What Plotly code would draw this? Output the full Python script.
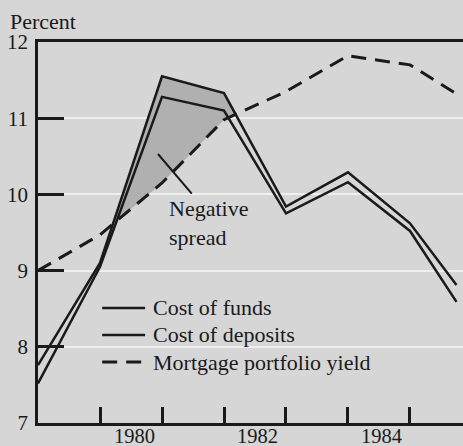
import plotly.graph_objects as go

# ---- data ----
years = [1979.0, 1980.0, 1981.0, 1982.0, 1983.0, 1984.0, 1985.0, 1985.75]
cost_of_funds = [7.76, 9.10, 11.55, 11.33, 9.84, 10.29, 9.62, 8.81]
cost_of_deposits = [7.52, 9.05, 11.28, 11.10, 9.75, 10.16, 9.52, 8.59]
mortgage_yield = [9.00, 9.47, 10.15, 10.98, 11.35, 11.82, 11.70, 11.32]

tick_years = [1980, 1981, 1982, 1983, 1984, 1985]
label_pos = [1980.5, 1982.5, 1984.5]
label_text = ["1980", "1982", "1984"]
y_ticks = [7, 8, 9, 10, 11, 12]
legend_names = ["Cost of funds", "Cost of deposits", "Mortgage portfolio yield"]

FONT = "Liberation Serif"
BG = "#d6d6d6"
INK = "#1a1a1a"
DASH = "15px,9px"

# ---- negative spread region (cost of funds above mortgage yield) ----
xs, ys_top, ys_bot = [], [], []
for i in range(len(years) - 1):
    x0, x1 = years[i], years[i + 1]
    d0 = cost_of_funds[i] - mortgage_yield[i]
    d1 = cost_of_funds[i + 1] - mortgage_yield[i + 1]
    if d0 >= 0:
        xs.append(x0); ys_top.append(cost_of_funds[i]); ys_bot.append(mortgage_yield[i])
    if d0 * d1 < 0:
        t = d0 / (d0 - d1)
        xc = x0 + t * (x1 - x0)
        yc = mortgage_yield[i] + t * (mortgage_yield[i + 1] - mortgage_yield[i])
        xs.append(xc); ys_top.append(yc); ys_bot.append(yc)
fill_x = xs + xs[::-1]
fill_y = ys_top + ys_bot[::-1]

fig = go.Figure()
fig.add_trace(go.Scatter(x=fill_x, y=fill_y, fill="toself", fillcolor="#b0b0b0",
                         line=dict(width=0), mode="lines", showlegend=False, hoverinfo="skip"))
fig.add_trace(go.Scatter(x=years, y=cost_of_funds, mode="lines", name=legend_names[0],
                         line=dict(color=INK, width=2.5), showlegend=False))
fig.add_trace(go.Scatter(x=years, y=cost_of_deposits, mode="lines", name=legend_names[1],
                         line=dict(color=INK, width=2.5), showlegend=False))
fig.add_trace(go.Scatter(x=years, y=mortgage_yield, mode="lines", name=legend_names[2],
                         line=dict(color=INK, width=3, dash=DASH), showlegend=False))

# pointer + label for negative spread
fig.add_annotation(x=1980.935, y=10.53, ax=1981.5, ay=9.99, axref="x", ayref="y",
                   xref="x", yref="y", showarrow=True, arrowhead=0, arrowwidth=2,
                   arrowcolor=INK, text="", standoff=0, startstandoff=0)
fig.add_annotation(x=1981.08, y=9.62, xref="x", yref="y", text="Negative<br>spread",
                   showarrow=False, xanchor="left", yanchor="middle", align="left",
                   font=dict(family=FONT, size=22, color=INK))
fig.add_annotation(x=0, y=1, xref="paper", yref="paper", yshift=9, xshift=-30,
                   text="Percent", showarrow=False, xanchor="left", yanchor="bottom",
                   height=20, valign="middle",
                   font=dict(family=FONT, size=22, color=INK))

# x-axis year labels, centred in each labelled year
for xp, lt in zip(label_pos, label_text):
    fig.add_annotation(x=xp, y=0, xref="x", yref="paper", text=lt, showarrow=False,
                       xanchor="center", yanchor="middle", yshift=-13, xshift=3,
                       height=16, valign="middle",
                       font=dict(family=FONT, size=20.5, color=INK))

# manual legend (sample lines + labels)
leg_y = [0.302, 0.231, 0.160]
leg_dash = ["solid", "solid", DASH]
for name, yy, dsh in zip(legend_names, leg_y, leg_dash):
    fig.add_shape(type="line", xref="paper", yref="paper", x0=0.151, x1=0.252, y0=yy, y1=yy,
                  line=dict(color=INK, width=2.5 if dsh == "solid" else 3, dash=dsh))
    fig.add_annotation(x=0.266, y=yy, xref="paper", yref="paper", text=name, showarrow=False,
                       xanchor="left", yanchor="middle", font=dict(family=FONT, size=22, color=INK))

fig.update_layout(
    width=463, height=446,
    margin=dict(l=38, r=0, t=42, b=23, autoexpand=False),
    paper_bgcolor=BG, plot_bgcolor=BG,
    font=dict(family=FONT, size=21, color=INK),
    showlegend=False,
    xaxis=dict(range=[1979, 1985.855], showgrid=False, zeroline=False, automargin=False,
               showline=True, mirror=True, linecolor=INK, linewidth=2.5,
               tickmode="array", tickvals=label_pos, ticktext=label_text, ticks="",
               showticklabels=False,
               minor=dict(tickmode="array", tickvals=tick_years, ticks="inside",
                          ticklen=16, tickwidth=2.5, tickcolor=INK, showgrid=False)),
    yaxis=dict(range=[7, 12], showgrid=True, gridcolor="#efefef", gridwidth=2,
               zeroline=False, showline=True, linecolor=INK, linewidth=2.5, automargin=False,
               tickmode="array", tickvals=y_ticks, ticks="inside", ticklen=26,
               tickwidth=2.5, tickcolor=INK, ticklabelstandoff=3),
)

fig.write_html("out.html", config={"displayModeBar": False},
               post_script="document.body.style.margin='0';document.body.style.background='#d6d6d6';")
